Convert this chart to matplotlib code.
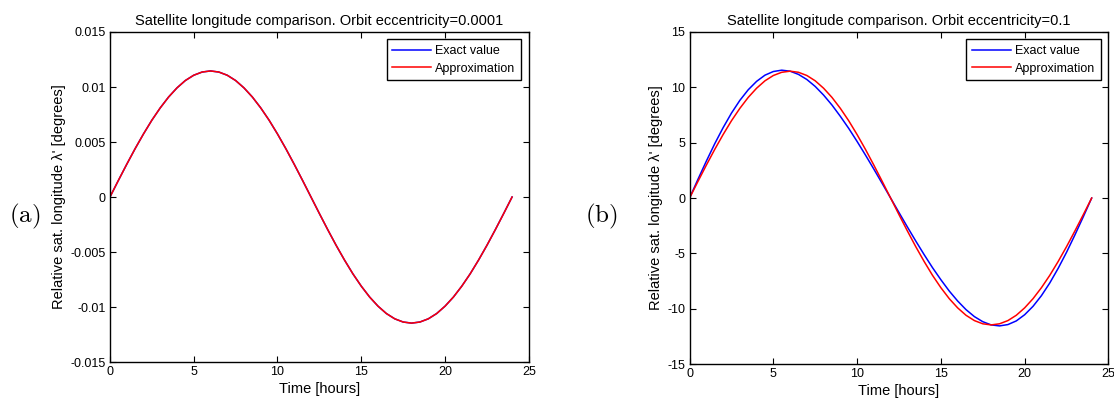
import matplotlib
matplotlib.use('Agg')
import matplotlib.pyplot as plt

plt.rcParams['font.family'] = ['Liberation Sans', 'DejaVu Sans']
plt.rcParams['mathtext.fontset'] = 'cm'

# time axis, hours
hours = [0, 0.5, 1, 1.5, 2, 2.5, 3, 3.5, 4, 4.5, 5, 5.5, 6, 6.5, 7, 7.5, 8, 8.5,
         9, 9.5, 10, 10.5, 11, 11.5, 12, 12.5, 13, 13.5, 14, 14.5, 15, 15.5, 16,
         16.5, 17, 17.5, 18, 18.5, 19, 19.5, 20, 20.5, 21, 21.5, 22, 22.5, 23,
         23.5, 24]

# (a) e = 0.0001, degrees
a_exact = [0, 0.0015, 0.00297, 0.00439, 0.00573, 0.00698, 0.0081, 0.00909,
           0.00992, 0.01059, 0.01107, 0.01136, 0.01146, 0.01136, 0.01107,
           0.01059, 0.00992, 0.00909, 0.0081, 0.00698, 0.00573, 0.00439,
           0.00297, 0.0015, 0, -0.0015, -0.00297, -0.00439, -0.00573, -0.00698,
           -0.0081, -0.00909, -0.00992, -0.01059, -0.01107, -0.01136, -0.01146,
           -0.01136, -0.01107, -0.01059, -0.00992, -0.00909, -0.0081, -0.00698,
           -0.00573, -0.00439, -0.00297, -0.0015, 0]
a_approx = [0, 0.0015, 0.00297, 0.00439, 0.00573, 0.00698, 0.0081, 0.00909,
            0.00992, 0.01059, 0.01107, 0.01136, 0.01146, 0.01136, 0.01107,
            0.01059, 0.00992, 0.00909, 0.0081, 0.00698, 0.00573, 0.00439,
            0.00297, 0.0015, 0, -0.0015, -0.00297, -0.00439, -0.00573, -0.00698,
            -0.0081, -0.00909, -0.00992, -0.01059, -0.01107, -0.01136, -0.01146,
            -0.01136, -0.01107, -0.01059, -0.00992, -0.00909, -0.0081, -0.00698,
            -0.00573, -0.00439, -0.00297, -0.0015, 0]

# (b) e = 0.1, degrees
b_exact = [0, 1.69, 3.33, 4.90, 6.35, 7.67, 8.82, 9.78, 10.54, 11.10, 11.43,
           11.55, 11.46, 11.17, 10.71, 10.08, 9.30, 8.40, 7.38, 6.29, 5.11, 3.88,
           2.61, 1.31, 0, -1.31, -2.61, -3.88, -5.11, -6.29, -7.38, -8.40, -9.30,
           -10.08, -10.71, -11.17, -11.46, -11.55, -11.43, -11.10, -10.54, -9.78,
           -8.82, -7.67, -6.35, -4.90, -3.33, -1.69, 0]
b_approx = [0, 1.50, 2.97, 4.39, 5.73, 6.98, 8.10, 9.09, 9.92, 10.59, 11.07,
            11.36, 11.46, 11.36, 11.07, 10.59, 9.92, 9.09, 8.10, 6.98, 5.73, 4.39,
            2.97, 1.50, 0, -1.50, -2.97, -4.39, -5.73, -6.98, -8.10, -9.09, -9.92,
            -10.59, -11.07, -11.36, -11.46, -11.36, -11.07, -10.59, -9.92, -9.09,
            -8.10, -6.98, -5.73, -4.39, -2.97, -1.50, 0]

x_ticks = [0, 5, 10, 15, 20, 25]
a_yticks = [-0.015, -0.01, -0.005, 0, 0.005, 0.01, 0.015]
a_yticklabels = ['-0.015', '-0.01', '-0.005', '0', '0.005', '0.01', '0.015']
b_yticks = [-15, -10, -5, 0, 5, 10, 15]
b_yticklabels = ['-15', '-10', '-5', '0', '5', '10', '15']

titles = ['Satellite longitude comparison. Orbit eccentricity=0.0001',
          'Satellite longitude comparison. Orbit eccentricity=0.1']

fig = plt.figure(figsize=(11.14, 4.05), dpi=100)
ax1 = fig.add_axes([0.0987, 0.106, 0.376, 0.815])
ax2 = fig.add_axes([0.619, 0.101, 0.376, 0.82])

panels = [(ax1, a_exact, a_approx, a_yticks, a_yticklabels),
          (ax2, b_exact, b_approx, b_yticks, b_yticklabels)]

for i, (ax, ex, ap, yt, ytl) in enumerate(panels):
    ax.plot(hours, ex, color='#0000ff', lw=1.1, label='Exact value')
    ax.plot(hours, ap, color='#ff0000', lw=1.1, label='Approximation')
    ax.set_xlim(0, 25)
    ax.set_ylim(yt[0], yt[-1])
    ax.set_xticks(x_ticks)
    ax.set_xticklabels([str(t) for t in x_ticks])
    ax.set_yticks(yt)
    ax.set_yticklabels(ytl)
    ax.tick_params(direction='in', top=True, right=True, length=4,
                   width=0.8, labelsize=9, pad=3)
    for s in ax.spines.values():
        s.set_linewidth(1.0)
    ax.set_title(titles[i], fontsize=10.5, pad=5)
    ax.set_xlabel('Time [hours]', fontsize=10.5, labelpad=3)
    ax.set_ylabel("Relative sat. longitude λ' [degrees]", fontsize=10.5, labelpad=3)
    leg = ax.legend(loc='upper right', fontsize=9, handlelength=3.1,
                    fancybox=False, framealpha=1, edgecolor='black',
                    borderaxespad=0.6, labelspacing=0.45, handletextpad=0.35,
                    borderpad=0.45)
    leg.get_frame().set_linewidth(1.0)

fig.text(0.022, 0.465, r'$\mathrm{(a)}$', fontsize=18, ha='center', va='center')
fig.text(0.540, 0.465, r'$\mathrm{(b)}$', fontsize=18, ha='center', va='center')

fig.savefig('out.png', dpi=100)
